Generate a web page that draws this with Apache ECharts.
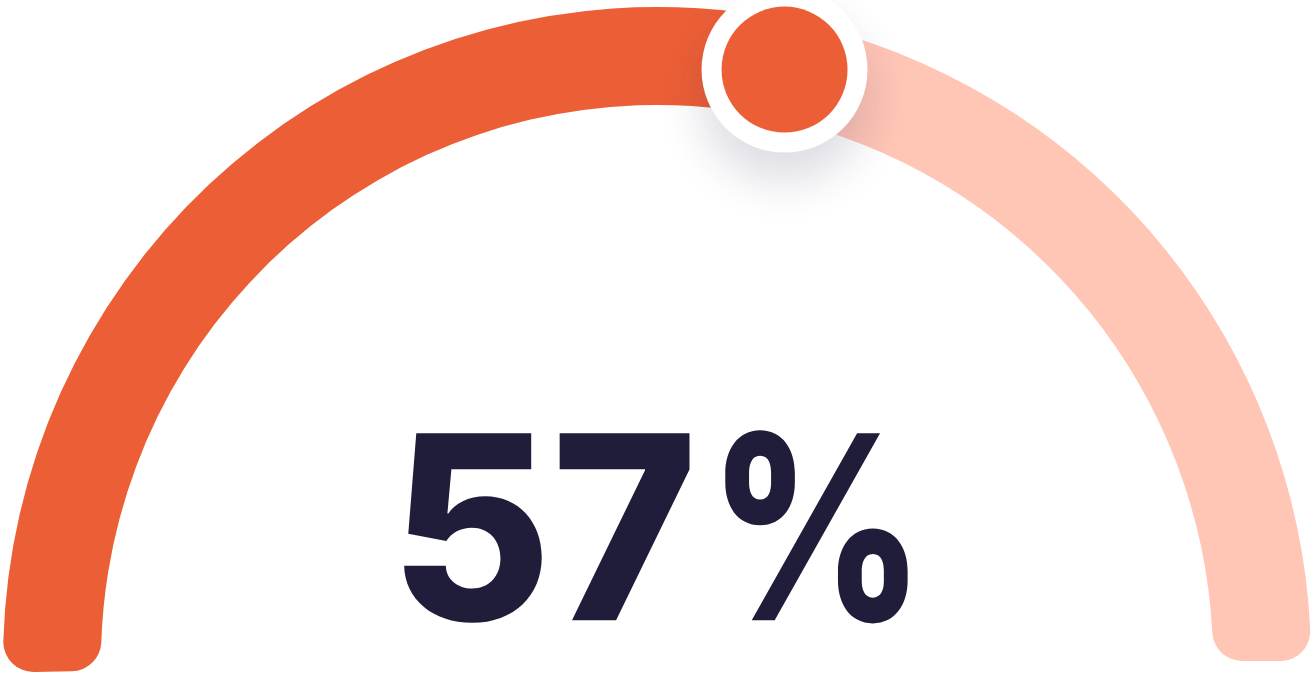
<!DOCTYPE html>
<html>
<head>
<meta charset="utf-8">
<script src="https://cdn.jsdelivr.net/npm/echarts@6/dist/echarts.min.js"></script>
<style>
html,body{margin:0;padding:0;background:#ffffff;}
#chart{width:1312px;height:695px;}
</style>
</head>
<body>
<div id="chart"></div>
<script>
// data
const categories = [''];
const progressValue = [57];
const remainingValue = [43];
const knobValue = [57];
const labelNumber = '57';
const labelUnit = '%';

const chart = echarts.init(document.getElementById('chart'), null, {renderer: 'canvas'});
const spanDeg = 181;
const textStyleBase = {
  fontFamily: 'Inter',
  fontWeight: 800,
  fontSize: 257,
  fill: '#201D3A',
  align: 'left',
  verticalAlign: 'middle'
};
chart.setOption({
  backgroundColor: '#ffffff',
  animation: false,
  polar: {
    center: [657, 661],
    radius: [556, 654]
  },
  angleAxis: {
    type: 'value',
    min: 0,
    max: 100 * 360 / spanDeg,
    startAngle: 181,
    clockwise: true,
    show: false
  },
  radiusAxis: {
    type: 'category',
    data: categories,
    show: false
  },
  graphic: [
    {
      type: 'text',
      x: 390,
      y: 543,
      scaleX: 0.965,
      style: Object.assign({}, textStyleBase, {text: labelNumber})
    },
    {
      type: 'text',
      x: 708,
      y: 543,
      scaleX: 0.82,
      style: Object.assign({}, textStyleBase, {text: labelUnit})
    }
  ],
  series: [
    {
      type: 'bar',
      coordinateSystem: 'polar',
      stack: 'gauge',
      barWidth: '100%',
      data: progressValue,
      itemStyle: {color: '#EC5E36', borderRadius: 30},
      emphasis: {disabled: true},
      silent: true
    },
    {
      type: 'bar',
      coordinateSystem: 'polar',
      stack: 'gauge',
      barWidth: '100%',
      data: remainingValue,
      itemStyle: {color: '#FFC5B5', borderRadius: 30},
      emphasis: {disabled: true},
      silent: true
    },
    {
      type: 'scatter',
      coordinateSystem: 'polar',
      data: knobValue.map(v => [0, v]),
      symbol: 'circle',
      symbolSize: 166,
      z: 5,
      itemStyle: {
        color: '#ffffff',
        opacity: 1,
        shadowBlur: 45,
        shadowOffsetY: 28,
        shadowColor: 'rgba(40,40,80,0.16)'
      },
      emphasis: {disabled: true},
      silent: true
    },
    {
      type: 'scatter',
      coordinateSystem: 'polar',
      data: knobValue.map(v => [0, v]),
      symbol: 'circle',
      symbolSize: 126,
      z: 6,
      itemStyle: {color: '#EC5E36', opacity: 1},
      emphasis: {disabled: true},
      silent: true
    }
  ]
});
</script>
</body>
</html>
